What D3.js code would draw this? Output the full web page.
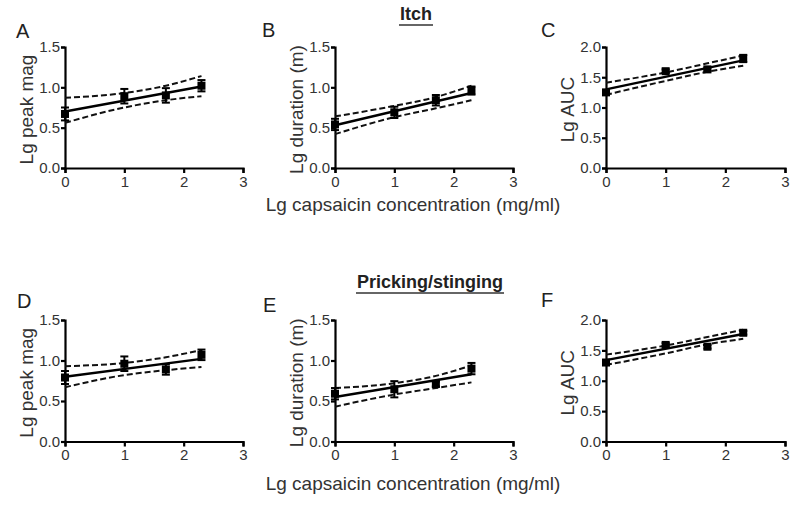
<!DOCTYPE html>
<html lang="en">
<head>
    <meta charset="UTF-8">
    <title>Capsaicin dose response</title>
    <script src="https://d3js.org/d3.v7.min.js"></script>
    <style>
        body {
            margin: 0;
            background: #fff;
        }
        svg {
            display: block;
            font-family: "Liberation Sans", Arial, sans-serif;
        }
        .tick text {
            font-size: 15px;
            fill: #333;
        }
        .domain, .tick line {
            stroke: #000;
            stroke-width: 2.2px;
        }
        .ylabel, .xlabel {
            font-size: 19px;
            fill: #333;
        }
        .letter {
            font-size: 20px;
            fill: #222;
        }
        .title {
            font-size: 18px;
            font-weight: bold;
            fill: #222;
        }
    </style>
</head>
<body>
    <svg id="chart" width="800" height="505"></svg>

    <script>
        // dose on log scale, mg/ml
        const doses = [0, 1, 1.7, 2.3];
        const fitX = [0, 2.3];
        const xTicks = [0, 1, 2, 3];
        const panelLetters = ["A", "B", "C", "D", "E", "F"];
        const yLabels = ["Lg peak mag", "Lg duration (m)", "Lg AUC", "Lg peak mag", "Lg duration (m)", "Lg AUC"];
        const yMax = [1.5, 1.5, 2.0, 1.5, 1.5, 2.0];
        const yTicksSmall = [0, 0.5, 1.0, 1.5];
        const yTicksLarge = [0, 0.5, 1.0, 1.5, 2.0];
        const groupTitles = ["Itch", "Pricking/stinging"];

        // Itch
        const itchPeak = [0.67, 0.89, 0.90, 1.02];
        const itchPeakErr = [0.08, 0.09, 0.09, 0.07];
        const itchPeakFit = [0.70, 1.01];
        const itchPeakUpper = [0.87, 0.93, 1.02, 1.14];
        const itchPeakLower = [0.56, 0.75, 0.84, 0.89];

        const itchDur = [0.54, 0.69, 0.84, 0.96];
        const itchDurErr = [0.07, 0.07, 0.065, 0.05];
        const itchDurFit = [0.53, 0.93];
        const itchDurUpper = [0.64, 0.77, 0.88, 1.02];
        const itchDurLower = [0.42, 0.63, 0.74, 0.84];

        const itchAuc = [1.25, 1.60, 1.63, 1.81];
        const itchAucErr = [0.03, 0.03, 0.03, 0.06];
        const itchAucFit = [1.30, 1.78];
        const itchAucUpper = [1.41, 1.58, 1.73, 1.86];
        const itchAucLower = [1.21, 1.44, 1.59, 1.69];

        // Pricking/stinging
        const prickPeak = [0.79, 0.96, 0.89, 1.07];
        const prickPeakErr = [0.08, 0.09, 0.065, 0.065];
        const prickPeakFit = [0.80, 1.02];
        const prickPeakUpper = [0.93, 0.97, 1.04, 1.13];
        const prickPeakLower = [0.67, 0.82, 0.88, 0.92];

        const prickDur = [0.59, 0.645, 0.71, 0.90];
        const prickDurErr = [0.07, 0.1, 0.03, 0.07];
        const prickDurFit = [0.55, 0.83];
        const prickDurUpper = [0.66, 0.72, 0.81, 0.94];
        const prickDurLower = [0.43, 0.58, 0.66, 0.73];

        const prickAuc = [1.30, 1.59, 1.56, 1.79];
        const prickAucErr = [0.03, 0.03, 0.03, 0.03];
        const prickAucFit = [1.34, 1.77];
        const prickAucUpper = [1.43, 1.58, 1.72, 1.84];
        const prickAucLower = [1.26, 1.45, 1.60, 1.69];

        const means = [itchPeak, itchDur, itchAuc, prickPeak, prickDur, prickAuc];
        const errs = [itchPeakErr, itchDurErr, itchAucErr, prickPeakErr, prickDurErr, prickAucErr];
        const fits = [itchPeakFit, itchDurFit, itchAucFit, prickPeakFit, prickDurFit, prickAucFit];
        const uppers = [itchPeakUpper, itchDurUpper, itchAucUpper, prickPeakUpper, prickDurUpper, prickAucUpper];
        const lowers = [itchPeakLower, itchDurLower, itchAucLower, prickPeakLower, prickDurLower, prickAucLower];

        // layout (pixel frame of each plot)
        const colLeft = [65, 335, 606];
        const colRight = [243, 513, 785];
        const rowTop = [47, 320];
        const rowBottom = [168, 441.5];
        const letterPos = [[16, 38], [262, 37], [541, 37], [17, 308], [263, 312], [541, 307]];

        const svg = d3.select("#chart");

        panelLetters.forEach((letter, i) => {
            const col = i % 3, row = Math.floor(i / 3);
            const x = d3.scaleLinear().domain([0, 3]).range([colLeft[col], colRight[col]]);
            const y = d3.scaleLinear().domain([0, yMax[i]]).range([rowBottom[row], rowTop[row]]);
            const g = svg.append("g");

            // axes
            g.append("g")
                .attr("transform", `translate(0,${rowBottom[row]})`)
                .call(d3.axisBottom(x).tickValues(xTicks).tickFormat(d3.format("d"))
                    .tickSizeOuter(0).tickSize(5).tickPadding(3));
            g.append("g")
                .attr("transform", `translate(${colLeft[col]},0)`)
                .call(d3.axisLeft(y).tickValues(yMax[i] > 1.5 ? yTicksLarge : yTicksSmall)
                    .tickFormat(d3.format(".1f")).tickSizeOuter(0).tickSize(4).tickPadding(1));

            // confidence band
            const bandLine = d3.line()
                .x((d, k) => x(doses[k]))
                .y(d => y(d))
                .curve(d3.curveMonotoneX);
            [uppers[i], lowers[i]].forEach(band => {
                g.append("path")
                    .attr("d", bandLine(band))
                    .attr("fill", "none")
                    .attr("stroke", "#111")
                    .attr("stroke-width", 2)
                    .attr("stroke-dasharray", "6,3");
            });

            // regression line
            g.append("path")
                .attr("d", d3.line().x((d, k) => x(fitX[k])).y(d => y(d))(fits[i]))
                .attr("fill", "none")
                .attr("stroke", "#000")
                .attr("stroke-width", 2.4);

            // error bars
            const eb = g.append("g").attr("stroke", "#000").attr("stroke-width", 2);
            means[i].forEach((m, k) => {
                const cx = x(doses[k]);
                const e = errs[i][k];
                eb.append("line").attr("x1", cx).attr("x2", cx).attr("y1", y(m - e)).attr("y2", y(m + e));
                [m - e, m + e].forEach(v => {
                    eb.append("line").attr("x1", cx - 4).attr("x2", cx + 4).attr("y1", y(v)).attr("y2", y(v));
                });
            });

            // points
            g.selectAll("rect.pt")
                .data(means[i])
                .enter()
                .append("rect")
                .attr("x", (d, k) => x(doses[k]) - 4)
                .attr("y", d => y(d) - 4)
                .attr("width", 8)
                .attr("height", 8)
                .attr("fill", "#000");

            // y label
            g.append("text")
                .attr("class", "ylabel")
                .attr("transform", `translate(${colLeft[col] - 32},${(rowTop[row] + rowBottom[row]) / 2 + 2}) rotate(-90)`)
                .attr("text-anchor", "middle")
                .text(yLabels[i]);

            // panel letter
            g.append("text")
                .attr("class", "letter")
                .attr("x", letterPos[i][0])
                .attr("y", letterPos[i][1])
                .text(letter);
        });

        // shared x labels and group titles
        const titleY = [20, 288];
        const xLabelY = [211, 490];
        groupTitles.forEach((t, r) => {
            const cx = r === 0 ? 416 : 430;
            const title = svg.append("text")
                .attr("class", "title")
                .attr("x", cx)
                .attr("y", titleY[r])
                .attr("text-anchor", "middle")
                .text(t);
            const w = title.node().getComputedTextLength();
            svg.append("line")
                .attr("x1", cx - w / 2 - 1).attr("x2", cx + w / 2 + 1)
                .attr("y1", titleY[r] + 5).attr("y2", titleY[r] + 5)
                .attr("stroke", "#666").attr("stroke-width", 1.8);

            svg.append("text")
                .attr("class", "xlabel")
                .attr("x", 413)
                .attr("y", xLabelY[r])
                .attr("text-anchor", "middle")
                .text("Lg capsaicin concentration (mg/ml)");
        });
    </script>
</body>
</html>
